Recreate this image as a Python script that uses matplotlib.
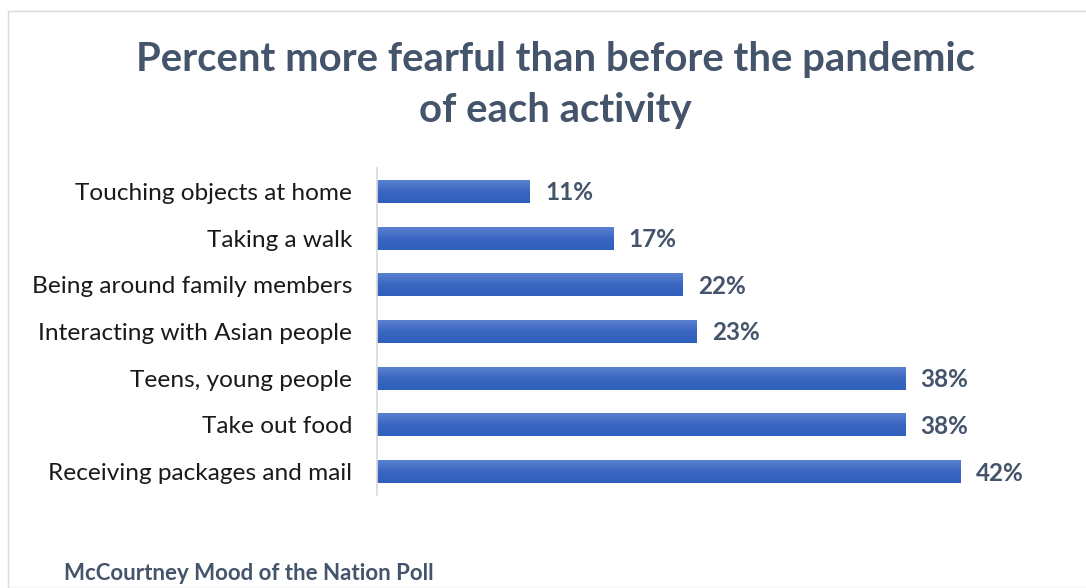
import matplotlib.pyplot as plt
import numpy as np
from matplotlib.colors import LinearSegmentedColormap
from matplotlib.patches import Rectangle

# valeurs du sondage (de haut en bas)
activites = ["Touching objects at home", "Taking a walk", "Being around family members",
             "Interacting with Asian people", "Teens, young people", "Take out food",
             "Receiving packages and mail"]
pourcentages = [11, 17, 22, 23, 38, 38, 42]

TITRE = "Percent more fearful than before the pandemic\nof each activity"
SOURCE = "McCourtney Mood of the Nation Poll"
GRIS_BLEU = "#44546a"

plt.rcParams["font.family"] = ["Lato", "DejaVu Sans"]

fig = plt.figure(figsize=(10.86, 5.88), dpi=100)
W, H = 1086, 588

# cadre gris clair du graphique
fig.patches.append(Rectangle((8 / W, 0), 1.2, 1 - 11 / H, transform=fig.transFigure,
                             fill=False, edgecolor="#d9d9d9", linewidth=1.0))

ax = fig.add_axes([377 / W, 1 - 495 / H, (1072 - 377) / W, (495 - 168) / H])
y = np.arange(len(activites))
bars = ax.barh(y, pourcentages, height=0.49, color="#4472c4")

# dégradé vertical dans chaque barre (clair en haut, foncé en bas)
cmap = LinearSegmentedColormap.from_list("grad", ["#5b81d0", "#3a66c0", "#2f5fbd"])
grad = np.linspace(0, 1, 64).reshape(-1, 1)
for b in bars:
    x0, y0, w, h = b.get_x(), b.get_y(), b.get_width(), b.get_height()
    im = ax.imshow(grad, cmap=cmap, aspect="auto", extent=[x0, x0 + w, y0 + h, y0],
                   origin="upper", zorder=2)
    im.set_clip_path(b)
    b.set_facecolor("none")

for yi, v in zip(y, pourcentages):
    ax.text(v + 1.1, yi + 0.03, f"{v}%", va="center", ha="left", fontsize=17.5,
            fontweight="bold", color=GRIS_BLEU)

ax.set_xlim(0, 50)
ax.set_ylim(len(activites) - 0.5, -0.5)
ax.set_yticks(y)
ax.set_yticklabels(activites, fontsize=17.6, color="#1a1a1a")
ax.tick_params(axis="y", length=0, pad=18)
ax.set_xticks([])
for s in ["top", "right", "bottom"]:
    ax.spines[s].set_visible(False)
ax.spines["left"].set_color("#d9d9d9")
ax.spines["left"].set_linewidth(1.2)

fig.text(555 / W, 1 - 85 / H, TITRE, ha="center", va="center", fontsize=28.8,
         fontweight="bold", color=GRIS_BLEU, linespacing=1.45)
fig.text(64 / W, 1 - 574 / H, SOURCE, ha="left", va="center", fontsize=16,
         fontweight="bold", color=GRIS_BLEU)

fig.savefig("out.png", dpi=100)
